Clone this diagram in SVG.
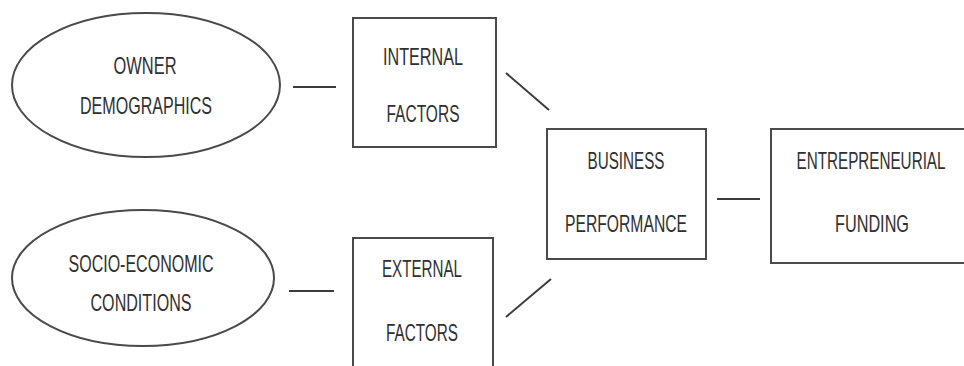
<svg xmlns="http://www.w3.org/2000/svg" width="964" height="366" viewBox="0 0 964 366">
  <style>
    .shape { fill: #ffffff; stroke: #4a4a4a; stroke-width: 2; }
    .link { stroke: #3c3c3c; stroke-width: 2; fill: none; }
    .label { font-family: "Liberation Sans", Arial, sans-serif; font-size: 24px; fill: #303030; text-anchor: middle; }
  </style>
  <rect width="964" height="366" fill="#ffffff"/>

  <g id="connectors">
    <line class="link" x1="293" y1="87" x2="336" y2="87"/>
    <line class="link" x1="289" y1="291" x2="334" y2="291"/>
    <line class="link" x1="506" y1="73" x2="549" y2="110"/>
    <line class="link" x1="506" y1="317" x2="551" y2="279"/>
    <line class="link" x1="717" y1="199" x2="760" y2="199"/>
  </g>

  <g id="owner-demographics">
    <ellipse class="shape" cx="146" cy="85" rx="134" ry="72"/>
    <text class="label" x="145" y="74" textLength="63" lengthAdjust="spacingAndGlyphs">OWNER</text>
    <text class="label" x="146" y="114" textLength="132" lengthAdjust="spacingAndGlyphs">DEMOGRAPHICS</text>
  </g>

  <g id="socio-economic-conditions">
    <ellipse class="shape" cx="143" cy="278" rx="131" ry="68"/>
    <text class="label" x="141" y="272" textLength="145" lengthAdjust="spacingAndGlyphs">SOCIO-ECONOMIC</text>
    <text class="label" x="141" y="311" textLength="101" lengthAdjust="spacingAndGlyphs">CONDITIONS</text>
  </g>

  <g id="internal-factors">
    <rect class="shape" x="353" y="18" width="143" height="129"/>
    <text class="label" x="423" y="65" textLength="80" lengthAdjust="spacingAndGlyphs">INTERNAL</text>
    <text class="label" x="423" y="122" textLength="73" lengthAdjust="spacingAndGlyphs">FACTORS</text>
  </g>

  <g id="external-factors">
    <rect class="shape" x="353" y="238" width="140" height="140"/>
    <text class="label" x="422" y="277" textLength="80" lengthAdjust="spacingAndGlyphs">EXTERNAL</text>
    <text class="label" x="422" y="341" textLength="72" lengthAdjust="spacingAndGlyphs">FACTORS</text>
  </g>

  <g id="business-performance">
    <rect class="shape" x="547" y="129" width="159" height="130"/>
    <text class="label" x="626" y="169" textLength="77" lengthAdjust="spacingAndGlyphs">BUSINESS</text>
    <text class="label" x="626" y="232" textLength="122" lengthAdjust="spacingAndGlyphs">PERFORMANCE</text>
  </g>

  <g id="entrepreneurial-funding">
    <rect class="shape" x="771" y="129" width="200" height="134"/>
    <text class="label" x="871" y="169" textLength="149" lengthAdjust="spacingAndGlyphs">ENTREPRENEURIAL</text>
    <text class="label" x="872" y="232" textLength="74" lengthAdjust="spacingAndGlyphs">FUNDING</text>
  </g>
</svg>
